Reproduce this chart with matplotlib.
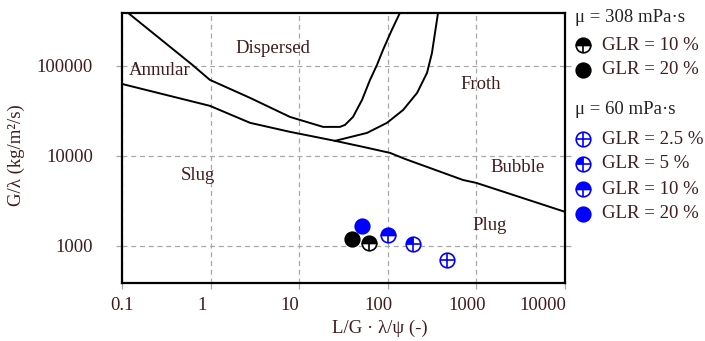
import matplotlib
matplotlib.use('Agg')
import matplotlib.pyplot as plt
from matplotlib.path import Path
from matplotlib.transforms import ScaledTranslation

plt.rcParams['font.family'] = ['Liberation Serif', 'DejaVu Serif']
plt.rcParams['font.size'] = 13.5

txt_col = '#401c1c'

# boundaries of the flow regime map (Baker type)
annular_x = [0.117, 0.62, 0.98, 2.79, 7.87, 18.6, 28.8, 32.9, 40.5, 51.2, 63, 75.5, 88.3, 111, 137]
annular_y = [388000, 103000, 70000, 44100, 27100, 21000, 21000, 22100, 27100, 41900, 69900, 102600, 150600, 251000, 388000]

slug_x = [0.1, 0.98, 2.79, 7.87, 25.4, 52.5, 106, 156, 706, 1000, 10000]
slug_y = [63000, 36000, 23300, 18500, 14700, 12600, 10800, 9260, 5400, 5010, 2390]

froth_x = [25.4, 34.6, 58.2, 98, 149, 214, 277, 315, 341, 369]
froth_y = [14700, 15850, 18000, 23300, 32400, 50100, 83600, 139000, 233000, 388000]

# region names
regions = ['Annular', 'Dispersed', 'Froth', 'Bubble', 'Slug', 'Plug']
region_x = [0.268, 5.06, 1127, 2944, 0.72, 1422]
region_y = [90000, 158000, 61500, 7360, 6000, 1670]

# measurements
mu308_x = [61.8, 39.2]
mu308_y = [1072, 1186]
mu308_glr = ['10', '20']
mu308_fill = ['half', 'full']

mu60_x = [462, 191, 99.8, 50.7]
mu60_y = [698, 1052, 1324, 1670]
mu60_glr = ['2.5', '5', '10', '20']
mu60_fill = ['none', 'quarter', 'half', 'full']

xticks = [0.1, 1, 10, 100, 1000, 10000]
xticklabels = ['0.1', '1', '10', '100', '1000', '10000']
yticks = [1000, 10000, 100000]
yticklabels = ['1000', '10000', '100000']

MS = 10.5
MEW = 1.2


def draw_marker(a, x, y, color, fill, z=5):
    if fill == 'full':
        a.plot(x, y, 'o', ms=MS, mfc=color, mec=color, mew=MEW, zorder=z)
        return
    if fill == 'half':
        a.plot(x, y, 'o', ms=MS, fillstyle='top', mfc=color, markerfacecoloralt='white',
               mec=color, mew=MEW, zorder=z)
    else:
        a.plot(x, y, 'o', ms=MS, mfc='white', mec=color, mew=MEW, zorder=z)
        if fill == 'quarter':
            a.plot(x, y, marker=Path.wedge(90, 180), ms=MS, mfc=color, mec='none', zorder=z)
    a.plot(x, y, '+', ms=MS, mec=color, mew=MEW, zorder=z)


fig = plt.figure(figsize=(7.05, 3.41), dpi=100)
ax = fig.add_axes([122 / 705, 1 - 283 / 341, 443 / 705, 270 / 341])

ax.plot(annular_x, annular_y, color='black', lw=1.4, zorder=3)
ax.plot(slug_x, slug_y, color='black', lw=1.4, zorder=3)
ax.plot(froth_x, froth_y, color='black', lw=1.4, zorder=3)

for name, rx, ry in zip(regions, region_x, region_y):
    ax.text(rx, ry, name, ha='center', va='center', color=txt_col, zorder=4)

for x, y, f in zip(mu308_x, mu308_y, mu308_fill):
    draw_marker(ax, x, y, 'black', f)
for x, y, f in zip(mu60_x, mu60_y, mu60_fill):
    draw_marker(ax, x, y, '#0000ff', f)

ax.set_xscale('log')
ax.set_yscale('log')
ax.set_xlim(0.1, 10000)
ax.set_ylim(387, 387000)
ax.set_xticks(xticks)
ax.set_xticklabels(xticklabels)
ax.set_yticks(yticks)
ax.set_yticklabels(yticklabels)
ax.minorticks_off()
ax.grid(True, color='#a8a8a8', ls=(0, (4, 3)), lw=0.9)
ax.tick_params(axis='both', colors='#a8a8a8', labelcolor=txt_col, length=4, width=0.9,
               direction='out', labelsize=13.5)
ax.tick_params(axis='y', right=True, pad=17)
ax.tick_params(axis='x', pad=6)
for s in ax.spines.values():
    s.set_linewidth(1.6)
    s.set_color('black')

# shift x tick labels a little to the left like in the original
off = ScaledTranslation(-9 / 100, 0, fig.dpi_scale_trans)
labs = ax.get_xticklabels()
for i, lab in enumerate(labs):
    if i == 0:
        continue
    if i == len(labs) - 1:
        lab.set_ha('right')
        lab.set_transform(lab.get_transform() + ScaledTranslation(1 / 100, 0, fig.dpi_scale_trans))
    else:
        lab.set_transform(lab.get_transform() + off)

ax.set_xlabel('L/G · λ/ψ (-)', color=txt_col)
ax.xaxis.set_label_coords(0.582, -0.135)
ax.set_ylabel('G/λ (kg/m²/s)', color=txt_col)
ax.yaxis.set_label_coords(-0.219, 0.474)

# legend drawn by hand in pixel space to the right of the axes
lg = fig.add_axes([0, 0, 1, 1])
lg.set_xlim(0, 705)
lg.set_ylim(341, 0)
lg.axis('off')
lg.patch.set_alpha(0)

lg.text(575, 18, 'μ = 308 mPa·s', ha='left', va='center', color='#222222')
for i, (g, f) in enumerate(zip(mu308_glr, mu308_fill)):
    yy = 45 + i * 25
    draw_marker(lg, 583, yy, 'black', f)
    lg.text(602, yy, 'GLR = ' + g + ' %', ha='left', va='center', color=txt_col)

lg.text(575, 109, 'μ = 60 mPa·s', ha='left', va='center', color='#222222')
for i, (g, f) in enumerate(zip(mu60_glr, mu60_fill)):
    yy = 139 + i * 25
    draw_marker(lg, 583, yy, '#0000ff', f)
    lg.text(602, yy, 'GLR = ' + g + ' %', ha='left', va='center', color=txt_col)

fig.savefig('out.png', dpi=100)
